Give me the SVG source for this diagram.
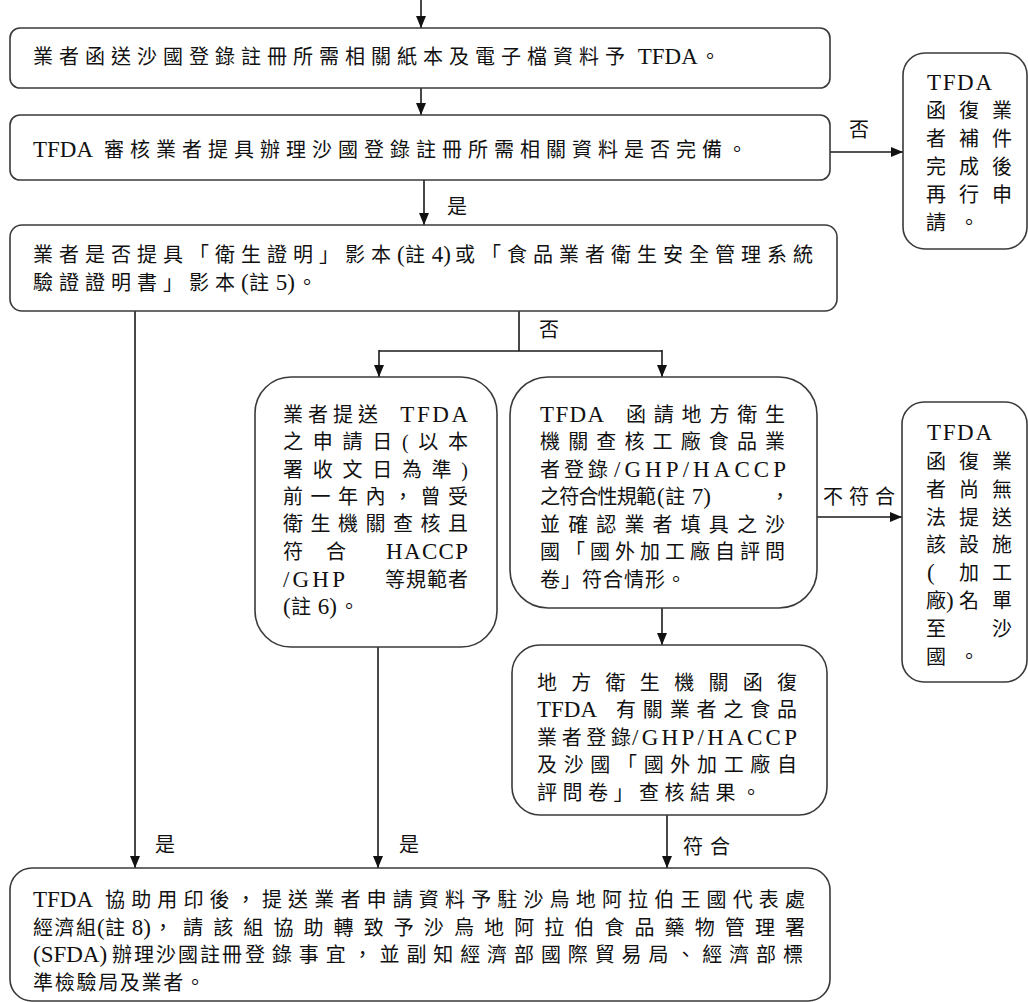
<svg xmlns="http://www.w3.org/2000/svg" width="1028" height="1002" viewBox="0 0 1028 1002">
<defs>
<style>
.b{fill:#fff;stroke:#3a3a3a;stroke-width:1.6}
.c{fill:none;stroke:#1a1a1a;stroke-width:1.6}
text{font-family:"Liberation Serif","Noto Sans CJK TC",serif;font-size:20px;fill:#111}
.l{font-size:23px}
</style>
<marker id="ah" viewBox="0 0 12 10" refX="12" refY="5" markerWidth="12" markerHeight="10" markerUnits="userSpaceOnUse" orient="auto"><path d="M0,0 L12,5 L0,10 z" fill="#111"/></marker>
</defs>
<rect width="1028" height="1002" fill="#fff"/>

<g id="connectors">
<line class="c" x1="421" y1="0" x2="421" y2="28" marker-end="url(#ah)"/>
<line class="c" x1="421" y1="88" x2="421" y2="115" marker-end="url(#ah)"/>
<line class="c" x1="424" y1="180" x2="424" y2="225" marker-end="url(#ah)"/>
<line class="c" x1="830" y1="152" x2="903" y2="152" marker-end="url(#ah)"/>
<polyline class="c" points="519,311 519,351"/>
<polyline class="c" points="379,351 662,351"/>
<line class="c" x1="379" y1="350" x2="379" y2="377" marker-end="url(#ah)"/>
<line class="c" x1="662" y1="350" x2="662" y2="377" marker-end="url(#ah)"/>
<line class="c" x1="135" y1="311" x2="135" y2="868" marker-end="url(#ah)"/>
<line class="c" x1="378" y1="647" x2="378" y2="868" marker-end="url(#ah)"/>
<line class="c" x1="662" y1="608" x2="662" y2="645" marker-end="url(#ah)"/>
<line class="c" x1="667" y1="815" x2="667" y2="868" marker-end="url(#ah)"/>
<line class="c" x1="817" y1="517" x2="902" y2="517" marker-end="url(#ah)"/>
<text x="447" y="214">是</text>
<text x="849" y="137">否</text>
<text x="539" y="337">否</text>
<text x="155" y="852">是</text>
<text x="399" y="852">是</text>
<text x="683" y="854" textLength="47" lengthAdjust="spacing">符合</text>
<text x="823" y="504" textLength="72" lengthAdjust="spacing">不符合</text>
</g>

<g id="n1">
<rect class="b" x="10" y="28" width="820" height="60" rx="10"/>
<text y="64"><tspan x="33" textLength="592" lengthAdjust="spacing">業者函送沙國登錄註冊所需相關紙本及電子檔資料予</tspan><tspan class="l" x="632"> TFDA</tspan><tspan x="700">。</tspan></text>
</g>

<g id="n2">
<rect class="b" x="10" y="115" width="820" height="65" rx="10"/>
<text y="157"><tspan class="l" x="33">TFDA </tspan><tspan x="104" textLength="618" lengthAdjust="spacing">審核業者提具辦理沙國登錄註冊所需相關資料是否完備</tspan><tspan x="727">。</tspan></text>
</g>

<g id="n3">
<rect class="b" x="10" y="225" width="827" height="86" rx="12"/>
<text y="262"><tspan x="33" textLength="358" lengthAdjust="spacing">業者是否提具「衛生證明」影本</tspan><tspan class="l" x="397">(</tspan><tspan x="405">註</tspan><tspan class="l" x="426"> 4)</tspan><tspan x="455" textLength="358" lengthAdjust="spacing">或「食品業者衛生安全管理系統</tspan></text>
<text y="290"><tspan x="33" textLength="202" lengthAdjust="spacing">驗證證明書」影本</tspan><tspan class="l" x="241">(</tspan><tspan x="249">註</tspan><tspan class="l" x="270"> 5)</tspan><tspan x="297">。</tspan></text>
</g>

<g id="n4">
<rect class="b" x="903" y="53" width="124" height="196" rx="22"/>
<text class="l" x="927" y="90" textLength="65" lengthAdjust="spacing">TFDA</text>
<text x="926" y="118" textLength="86" lengthAdjust="spacing">函復業</text>
<text x="926" y="146" textLength="86" lengthAdjust="spacing">者補件</text>
<text x="926" y="174" textLength="86" lengthAdjust="spacing">完成後</text>
<text x="926" y="202" textLength="86" lengthAdjust="spacing">再行申</text>
<text x="926" y="230" textLength="53" lengthAdjust="spacing">請。</text>
</g>

<g id="n5">
<rect class="b" x="255" y="377" width="242" height="270" rx="36"/>
<text y="422"><tspan x="283" textLength="95" lengthAdjust="spacing">業者提送</tspan><tspan class="l" x="392" textLength="76" lengthAdjust="spacing"> TFDA</tspan></text>
<text x="283" y="449" textLength="185" lengthAdjust="spacing">之申請日(以本</text>
<text x="283" y="477" textLength="185" lengthAdjust="spacing">署收文日為準)</text>
<text x="283" y="504" textLength="185" lengthAdjust="spacing">前一年內，曾受</text>
<text x="283" y="531" textLength="185" lengthAdjust="spacing">衛生機關查核且</text>
<text y="559"><tspan x="283">符</tspan><tspan x="326">合</tspan><tspan class="l" x="379" textLength="89" lengthAdjust="spacing"> HACCP</tspan></text>
<text y="587"><tspan class="l" x="283" textLength="70" lengthAdjust="spacing">/GHP </tspan><tspan x="385" textLength="83" lengthAdjust="spacing">等規範者</tspan></text>
<text y="614"><tspan class="l" x="283">(</tspan><tspan x="291">註</tspan><tspan class="l" x="312"> 6)</tspan><tspan x="339">。</tspan></text>
</g>

<g id="n6">
<rect class="b" x="510" y="377" width="307" height="231" rx="38"/>
<text y="422"><tspan class="l" x="540" textLength="70" lengthAdjust="spacing">TFDA </tspan><tspan x="626" textLength="159" lengthAdjust="spacing">函請地方衛生</tspan></text>
<text x="540" y="449" textLength="245" lengthAdjust="spacing">機關查核工廠食品業</text>
<text y="477"><tspan x="540" textLength="68" lengthAdjust="spacing">者登錄</tspan><tspan class="l" x="614" textLength="172" lengthAdjust="spacing">/GHP/HACCP</tspan></text>
<text y="504"><tspan x="540" textLength="116" lengthAdjust="spacing">之符合性規範</tspan><tspan class="l" x="657">(</tspan><tspan x="665">註</tspan><tspan class="l" x="686"> 7)</tspan><tspan x="770">，</tspan></text>
<text x="540" y="532" textLength="245" lengthAdjust="spacing">並確認業者填具之沙</text>
<text x="540" y="559" textLength="245" lengthAdjust="spacing">國「國外加工廠自評問</text>
<text x="540" y="587" style="letter-spacing:1px">卷」符合情形。</text>
</g>

<g id="n7">
<rect class="b" x="512" y="645" width="315" height="170" rx="28"/>
<text x="537" y="690" textLength="260" lengthAdjust="spacing">地方衛生機關函復</text>
<text y="717"><tspan class="l" x="537">TFDA </tspan><tspan x="616" textLength="181" lengthAdjust="spacing">有關業者之食品</tspan></text>
<text y="745"><tspan x="537" textLength="94" lengthAdjust="spacing">業者登錄</tspan><tspan class="l" x="632" textLength="165" lengthAdjust="spacing">/GHP/HACCP</tspan></text>
<text x="537" y="772" textLength="260" lengthAdjust="spacing">及沙國「國外加工廠自</text>
<text x="537" y="800" textLength="224" lengthAdjust="spacing">評問卷」查核結果。</text>
</g>

<g id="n8">
<rect class="b" x="902" y="402" width="125" height="280" rx="22"/>
<text class="l" x="927" y="440" textLength="65" lengthAdjust="spacing">TFDA</text>
<text x="926" y="469" textLength="86" lengthAdjust="spacing">函復業</text>
<text x="926" y="497" textLength="86" lengthAdjust="spacing">者尚無</text>
<text x="926" y="525" textLength="86" lengthAdjust="spacing">法提送</text>
<text x="926" y="552" textLength="86" lengthAdjust="spacing">該設施</text>
<text y="580"><tspan class="l" x="927">(</tspan><tspan x="959" textLength="53" lengthAdjust="spacing">加工</tspan></text>
<text y="608"><tspan x="926">廠</tspan><tspan class="l" x="946">)</tspan><tspan x="959" textLength="53" lengthAdjust="spacing">名單</tspan></text>
<text x="926" y="636" textLength="86" lengthAdjust="spacing">至沙</text>
<text x="926" y="664" textLength="53" lengthAdjust="spacing">國。</text>
</g>

<g id="n9">
<rect class="b" x="10" y="868" width="820" height="133" rx="22"/>
<text y="907"><tspan class="l" x="33">TFDA </tspan><tspan x="105" textLength="700" lengthAdjust="spacing">協助用印後，提送業者申請資料予駐沙烏地阿拉伯王國代表處</tspan></text>
<text y="935"><tspan x="33" textLength="63" lengthAdjust="spacing">經濟組</tspan><tspan class="l" x="97">(</tspan><tspan x="105">註</tspan><tspan class="l" x="126"> 8)</tspan><tspan x="153" textLength="652" lengthAdjust="spacing">，請該組協助轉致予沙烏地阿拉伯食品藥物管理署</tspan></text>
<text y="962"><tspan class="l" x="33">(SFDA)</tspan><tspan x="112" style="letter-spacing:2px">辦理沙國註冊 </tspan><tspan x="245" textLength="558" lengthAdjust="spacing">登錄事宜，並副知經濟部國際貿易局、經濟部標</tspan></text>
<text x="33" y="990" textLength="172" lengthAdjust="spacing">準檢驗局及業者。</text>
</g>
</svg>
